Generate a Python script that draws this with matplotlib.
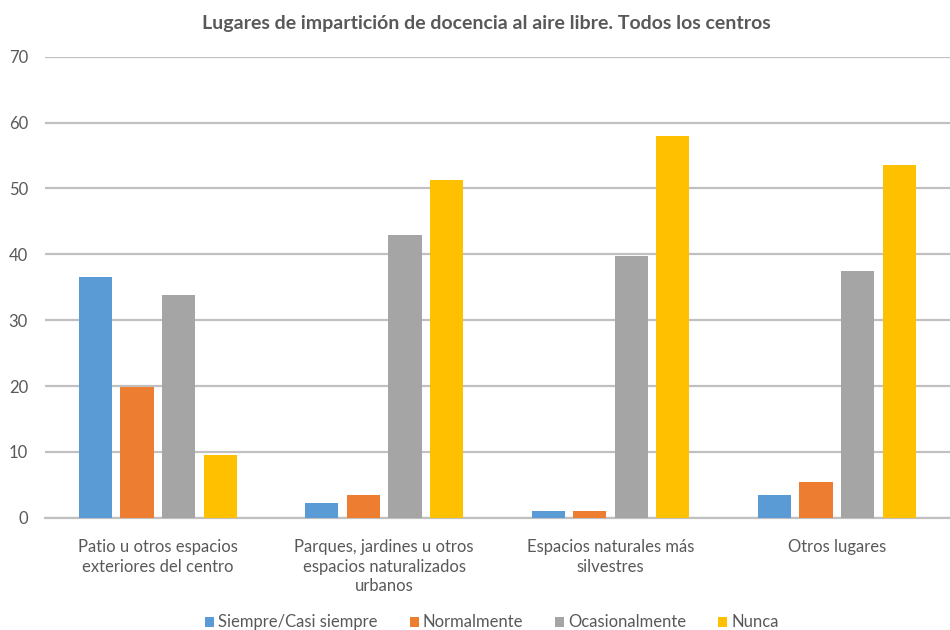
import matplotlib
matplotlib.use("Agg")
import matplotlib.pyplot as plt
import numpy as np

plt.rcParams['font.family'] = ['Lato', 'DejaVu Sans']

categorias = ["Patio u otros espacios\nexteriores del centro",
              "Parques, jardines u otros\nespacios naturalizados\nurbanos",
              "Espacios naturales más\nsilvestres",
              "Otros lugares"]
series = ["Siempre/Casi siempre", "Normalmente", "Ocasionalmente", "Nunca"]
siempre = [36.5, 2.2, 1.0, 3.5]
normalmente = [19.9, 3.5, 1.0, 5.4]
ocasionalmente = [33.8, 43.0, 39.7, 37.5]
nunca = [9.5, 51.3, 57.9, 53.6]
colores = ["#5b9bd5", "#ed7d31", "#a5a5a5", "#ffc000"]

valores = [siempre, normalmente, ocasionalmente, nunca]

fig = plt.figure(figsize=(9.5, 6.3), dpi=100)
ax = fig.add_axes([0.047, 0.178, 0.953, 0.732])

x = np.arange(len(categorias))
paso = 0.184
ancho = 0.146
for i, (nombre, vals) in enumerate(zip(series, valores)):
    ax.bar(x + (i - 1.5) * paso, vals, ancho, color=colores[i], label=nombre, zorder=3)

ax.set_ylim(0, 70)
ax.set_xlim(-0.5, 3.5)
ax.set_yticks(range(0, 71, 10))
ax.yaxis.grid(True, color="#c0c0c0", linewidth=1.6, zorder=0)
for s in ["top", "right", "left"]:
    ax.spines[s].set_visible(False)
ax.spines["bottom"].set_color("#c0c0c0")
ax.spines["bottom"].set_linewidth(1.6)
ax.tick_params(axis="both", length=0, colors="#595959", labelsize=12)
ax.tick_params(axis="y", pad=12)
ax.tick_params(axis="x", pad=15)
ax.set_xticks(x)
ax.set_xticklabels(categorias, linespacing=1.3)

fig.text(0.512, 0.963, "Lugares de impartición de docencia al aire libre. Todos los centros",
         ha="center", va="center", fontsize=14, fontweight="bold", color="#595959")

fig.legend(loc="center", bbox_to_anchor=(0.518, 0.012), ncol=4, frameon=False,
           fontsize=12, labelcolor="#595959", handlelength=0.55, handleheight=0.55,
           handletextpad=0.25, columnspacing=1.9)

fig.savefig("out.png", dpi=100)
